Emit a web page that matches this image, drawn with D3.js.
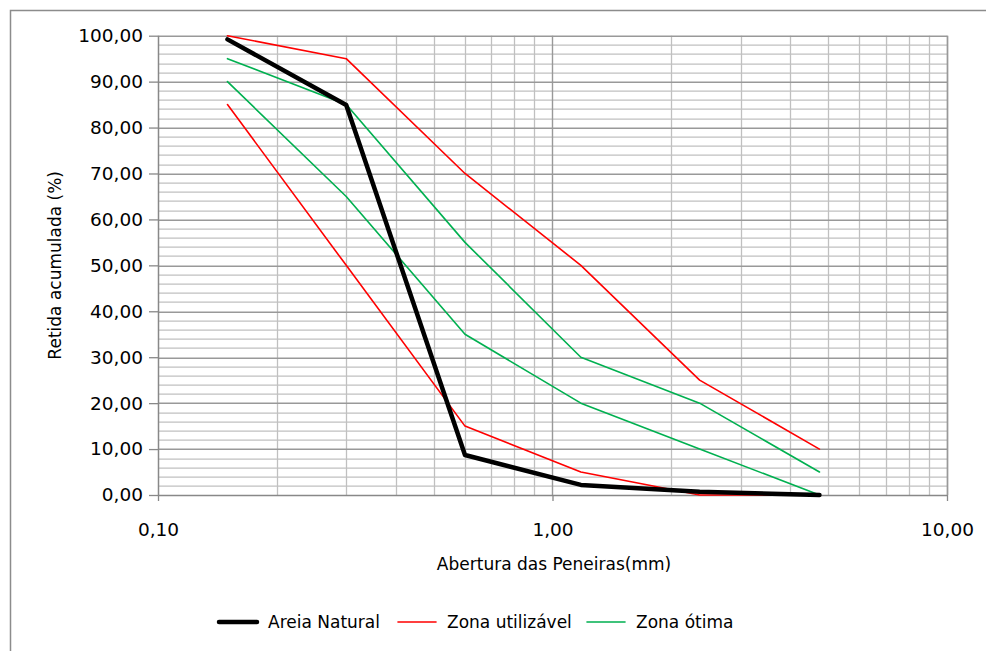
<!DOCTYPE html>
<html>
<head>
<meta charset="utf-8">
<script src="https://cdn.jsdelivr.net/npm/d3@7"></script>
<style>
  body { margin: 0; background: #fff; }
  svg { display: block; }
</style>
</head>
<body>
<div id="chart"></div>
<script>
// sieve openings (mm)
const sieves = [0.15, 0.3, 0.6, 1.18, 2.36, 4.75];

const areiaNatural = [99.2, 84.9, 8.7, 2.2, 0.7, 0.0];
const utilInferior = [85, 50, 15, 5, 0, 0];
const utilSuperior = [100, 95, 70, 50, 25, 10];
const otimaInferior = [90, 65, 35, 20, 10, 0];
const otimaSuperior = [95, 85, 55, 30, 20, 5];

const yTicks = [0, 10, 20, 30, 40, 50, 60, 70, 80, 90, 100];
const xTicks = [0.1, 1, 10];

const series = [
  {name: "Zona utilizável", values: utilInferior, color: "#ff0000", w: 1.6},
  {name: "Zona utilizável", values: utilSuperior, color: "#ff0000", w: 1.6},
  {name: "Zona ótima", values: otimaInferior, color: "#00b050", w: 1.6},
  {name: "Zona ótima", values: otimaSuperior, color: "#00b050", w: 1.6},
  {name: "Areia Natural", values: areiaNatural, color: "#000000", w: 4.5}
];
const legendItems = [
  {name: "Areia Natural", color: "#000000", w: 4.5},
  {name: "Zona utilizável", color: "#ff0000", w: 1.6},
  {name: "Zona ótima", color: "#00b050", w: 1.6}
];

const W = 986, H = 651;
const margin = {top: 35.7, left: 158, right: 39, bottom: 156};
const width = W - margin.left - margin.right;
const height = H - margin.top - margin.bottom;
const FONT = "DejaVu Sans";

const svg = d3.select("#chart").append("svg")
  .attr("width", W).attr("height", H);

// outer chart border (only top/left visible in crop)
svg.append("path")
  .attr("d", `M10.5,${H} V10.5 H${W}`)
  .attr("fill", "none").attr("stroke", "#8c8c8c").attr("stroke-width", 1.5);

const g = svg.append("g").attr("transform", `translate(${margin.left},${margin.top})`);

const x = d3.scaleLog().domain([0.1, 10]).range([0, width]);
const y = d3.scaleLinear().domain([0, 100]).range([height, 0]);

// minor horizontal grid (every 2)
const minorY = d3.range(0, 101, 2).filter(v => v % 10 !== 0);
g.selectAll(".gy-minor").data(minorY).enter().append("line")
  .attr("x1", 0).attr("x2", width)
  .attr("y1", d => Math.round(y(d)) + 0.5).attr("y2", d => Math.round(y(d)) + 0.5)
  .attr("stroke", "#c0c0c0").attr("stroke-width", 1.3);

// minor vertical grid
const minorX = [];
[0.1, 1].forEach(b => { for (let k = 2; k <= 9; k++) minorX.push(b * k); });
g.selectAll(".gx-minor").data(minorX).enter().append("line")
  .attr("y1", 0).attr("y2", height)
  .attr("x1", d => Math.round(x(d)) + 0.5).attr("x2", d => Math.round(x(d)) + 0.5)
  .attr("stroke", "#c0c0c0").attr("stroke-width", 1.3);

// major horizontal grid
g.selectAll(".gy-major").data(yTicks.filter(v => v > 0)).enter().append("line")
  .attr("x1", 0).attr("x2", width)
  .attr("y1", d => Math.round(y(d)) + 0.5).attr("y2", d => Math.round(y(d)) + 0.5)
  .attr("stroke", "#999999").attr("stroke-width", 1.4);

// major vertical grid
g.selectAll(".gx-major").data(xTicks.filter(v => v > 0.1)).enter().append("line")
  .attr("y1", 0).attr("y2", height)
  .attr("x1", d => Math.round(x(d)) + 0.5).attr("x2", d => Math.round(x(d)) + 0.5)
  .attr("stroke", "#999999").attr("stroke-width", 1.4);

const fmt = d3.format(".2f");
const comma = v => fmt(v).replace(".", ",");

// y axis
const yAxis = g.append("g")
  .call(d3.axisLeft(y).tickValues(yTicks).tickSize(9).tickPadding(6).tickFormat(comma));
yAxis.select(".domain").attr("stroke", "#888").attr("stroke-width", 1.5).attr("d", `M0.5,0 V${height}`);
yAxis.selectAll(".tick line").attr("stroke", "#888").attr("stroke-width", 1.3);
yAxis.selectAll("text").attr("font-family", FONT).attr("font-size", 18.5).attr("fill", "#000");

// x axis
const xAxis = g.append("g").attr("transform", `translate(0,${height})`)
  .call(d3.axisBottom(x).tickValues(xTicks).tickSize(6).tickPadding(22).tickFormat(comma));
xAxis.select(".domain").attr("stroke", "#888").attr("stroke-width", 1.5).attr("d", `M0,0.5 H${width}`);
xAxis.selectAll(".tick line").attr("stroke", "#888").attr("stroke-width", 1.3);
xAxis.selectAll("text").attr("font-family", FONT).attr("font-size", 18.5).attr("fill", "#000");

// right frame line
g.append("line").attr("x1", width + 0.5).attr("x2", width + 0.5).attr("y1", 0).attr("y2", height)
  .attr("stroke", "#999").attr("stroke-width", 1.4);

// data lines
const line = d3.line().x((d, i) => x(sieves[i])).y(d => y(d));
g.selectAll(".series").data(series).enter().append("path")
  .attr("d", d => line(d.values))
  .attr("fill", "none")
  .attr("stroke", d => d.color)
  .attr("stroke-width", d => d.w)
  .attr("stroke-linejoin", "round")
  .attr("stroke-linecap", "round");

// axis titles
svg.append("text")
  .attr("x", 554).attr("y", 570)
  .attr("text-anchor", "middle")
  .attr("font-family", FONT).attr("font-size", 17)
  .text("Abertura das Peneiras(mm)");

svg.append("text")
  .attr("transform", `translate(61,${margin.top + height / 2}) rotate(-90)`)
  .attr("text-anchor", "middle")
  .attr("font-family", FONT).attr("font-size", 17)
  .text("Retida acumulada (%)");

// legend
const legendX = [217, 396, 585];
const legend = svg.selectAll(".legend").data(legendItems).enter().append("g")
  .attr("transform", (d, i) => `translate(${legendX[i]},622)`);
legend.append("line")
  .attr("x1", 2).attr("x2", 40).attr("y1", 0).attr("y2", 0)
  .attr("stroke", d => d.color).attr("stroke-width", d => d.w)
  .attr("stroke-linecap", "round");
legend.append("text")
  .attr("x", 51).attr("y", 6)
  .attr("font-family", FONT).attr("font-size", 17)
  .text(d => d.name);
</script>
</body>
</html>
